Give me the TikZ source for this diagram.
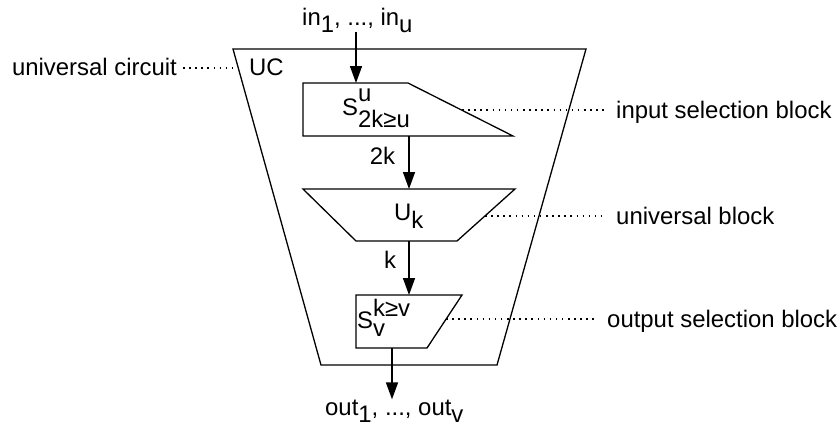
\documentclass[tikz,border=0pt]{standalone}
\usepackage{fontspec}
\setmainfont{Liberation Sans}
\usetikzlibrary{arrows.meta, calc}
\tikzset{
    block/.style={draw, line width=1.3bp, line join=miter},
    flow/.style={-{Triangle[length=17bp, width=12bp]}, line width=1.6bp},
    leader/.style={line width=1.4bp, dash pattern=on 1.5bp off 4.6bp},
    txt/.style={inner sep=0pt, font=\fontsize{24}{28}\selectfont},
    lbl/.style={txt, inner xsep=12bp},
}
\newcommand{\lo}[1]{\raisebox{-7bp}{#1}}

\begin{document}
\begin{tikzpicture}[x=1bp, y=-1bp]
    \useasboundingbox (0,0) rectangle (840,429);

    % universal circuit
    \draw[block] (233,49) -- (586,49) -- (497,365) -- (321,365) -- cycle;
    \node[txt, anchor=base west] (uc) at (249,75) {UC};
    \coordinate (uc edge) at (239,68);
    \node[lbl, inner xsep=6bp, anchor=base east] (uclbl) at (183,75) {universal circuit};
    \draw[leader] (uc edge -| uclbl.east) -- (uc edge);

    % input selection block
    \draw[block] (303,83) -- (408,83) -- (513,136) -- (303,136) -- cycle;
    \coordinate (isb in) at (356,83);
    \coordinate (isb out) at (409,136);
    \coordinate (isb tip) at (462,110);
    \node[txt, anchor=base west] (isb) at (342,115)
        {S\rlap{\raisebox{14bp}{u}}\raisebox{-12bp}{2k≥u}};
    \node[lbl, anchor=base west] (isblbl) at (604,118) {input selection block};
    \draw[leader] (isb tip) -- (isb tip -| isblbl.west);

    % universal block
    \draw[block] (303,189) -- (515,189) -- (457,241) -- (356,241) -- cycle;
    \coordinate (ub in) at (409,189);
    \coordinate (ub out) at (409,241);
    \coordinate (ub tip) at (485,216);
    \node[txt, anchor=base west] (ub) at (394,220) {U\raisebox{-8bp}{k}};
    \node[lbl, anchor=base west] (ublbl) at (604,224) {universal block};
    \draw[leader] (ub tip) -- (ub tip -| ublbl.west);

    % output selection block
    \draw[block] (356,295) -- (462,295) -- (427,348) -- (356,348) -- cycle;
    \coordinate (osb in) at (409,295);
    \coordinate (osb out) at (392,348);
    \coordinate (osb tip) at (446,319);
    \node[txt, anchor=base west] (osb) at (357,328)
        {S\rlap{\raisebox{-8bp}{v}}\raisebox{12bp}{k≥v}};
    \node[lbl, anchor=base west] (osblbl) at (595,327) {output selection block};
    \draw[leader] (osb tip) -- (osb tip -| osblbl.west);

    % inputs and outputs
    \node[txt, anchor=base west] (inp) at (302,25) {in\lo{1}, ..., in\lo{u}};
    \node[txt, anchor=base west] (outp) at (325,415) {out\lo{1}, ..., out\lo{v}};

    \draw[flow] (inp.south -| isb in) -- (isb in);
    \draw[flow] (isb out)
        -- node[txt, anchor=base east, xshift=-13bp, yshift=-1.5bp] {2k}
        (ub in);
    \draw[flow] (ub out)
        -- node[txt, anchor=base east, xshift=-12bp] {k}
        (osb in);
    \draw[flow] (osb out) -- (outp.north -| osb out);

\end{tikzpicture}
\end{document}
